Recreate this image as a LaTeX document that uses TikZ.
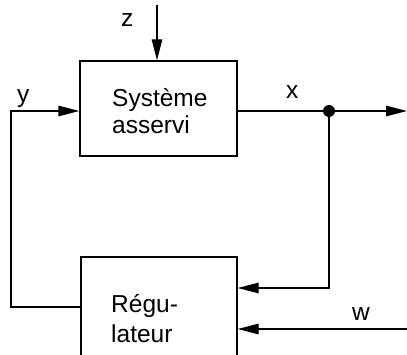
\documentclass[tikz,border=0pt]{standalone}
\usepackage{fontspec}
\setmainfont{Liberation Sans}
\usetikzlibrary{arrows.meta}
\begin{document}
\begin{tikzpicture}[x=1pt,y=-1pt,
  blk/.style={draw,line width=1.4pt,rectangle,inner sep=0pt},
  lbl/.style={font=\fontsize{24.5}{28}\selectfont,inner sep=0pt,anchor=base west},
  con/.style={line width=1.4pt},
  arr/.style={con,-{Triangle[length=21pt,width=10.5pt]}}]
\useasboundingbox (0,0) rectangle (407,355);
\clip (0,0) rectangle (407,355);
\node[blk,minimum width=157pt,minimum height=95pt] (sys) at (158.5,108.5) {};
\node[blk,minimum width=156pt,minimum height=104pt] (reg) at (159,309) {};
\node[lbl] (t1) at (112,107) {Système};
\node[lbl] (t2) at (112,134) {asservi};
\node[lbl] (t3) at (111,313) {Régu-};
\node[lbl] (t4) at (111,342) {lateur};
\node[lbl] (lz) at (121,27) {z};
\node[lbl] (ly) at (17,103) {y};
\node[lbl] (lx) at (286,99) {x};
\node[lbl] (lw) at (352,320) {w};
\coordinate (ztop) at (157,5);
\coordinate (yin) at (11,111);
\coordinate (ycorner) at (11,307);
\coordinate (xout) at (407,111);
\coordinate (fb) at (329,288);
\coordinate (win) at (407,329);
\node[circle,fill,inner sep=0pt,minimum size=12pt] (dot) at (329,111) {};
\draw[arr] (ztop) -- (ztop |- sys.north);
\draw[arr] (ycorner -| reg.west) -- (ycorner) -- (yin) -- (yin -| sys.west);
\draw[con] (xout -| sys.east) -- (dot);
\draw[arr] (dot) -- (xout);
\draw[arr] (dot) -- (fb) -- (fb -| reg.east);
\draw[arr] (win) -- (win -| reg.east);
\end{tikzpicture}
\end{document}
